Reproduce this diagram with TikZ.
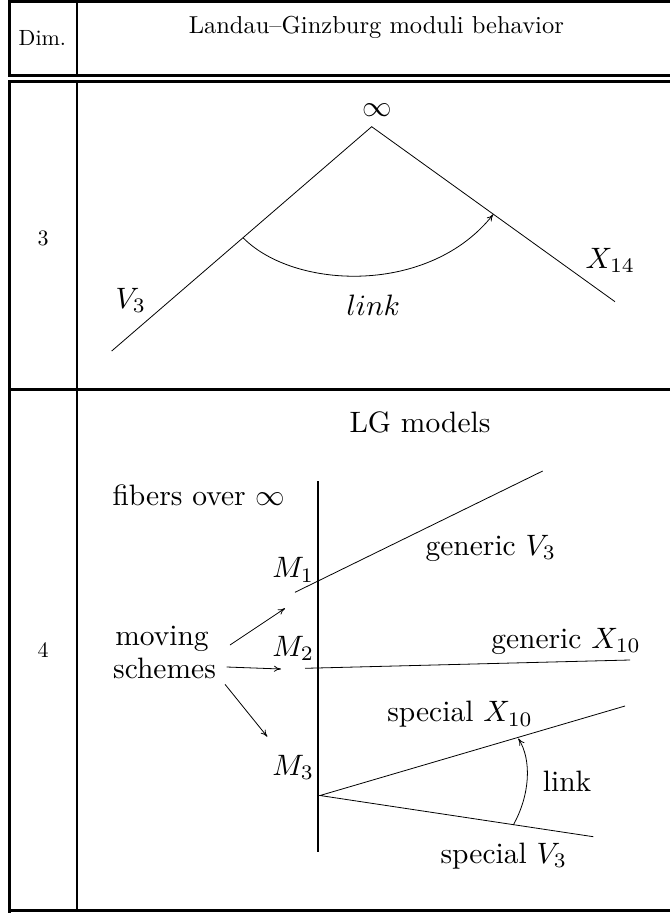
\documentclass[tikz,border=0pt]{standalone}
\usetikzlibrary{arrows.meta}
\tikzset{
  rule/.style={line width=3pt},
  thinrule/.style={line width=2.5pt},
  curve/.style={line width=0.8pt},
  arr/.style={line width=0.8pt,-{To[length=7pt,width=6pt]}},
  hdr/.style={inner sep=0pt,scale=2.2,transform shape},
  ttl/.style={inner sep=0pt,scale=2.45,transform shape},
  lbl/.style={inner sep=0pt,scale=2.95,transform shape},
}
\begin{document}
\begin{tikzpicture}[x=1pt,y=-1pt]
\useasboundingbox (0,0) rectangle (670,913);
% table rules
\draw[rule] (8,1.5) -- (670,1.5);
\draw[rule] (8,75) -- (670,75);
\draw[thinrule] (8,81.5) -- (670,81.5);
\draw[rule] (8,389.5) -- (670,389.5);
\draw[rule] (8,910.5) -- (670,910.5);
\draw[rule] (9.5,0) -- (9.5,76.5);
\draw[rule] (9.5,80.5) -- (9.5,913);
\draw[thinrule] (77,0) -- (77,76.5);
\draw[thinrule] (77,80.5) -- (77,912);
% header
\node[hdr,anchor=base west] (dim) at (18.3,45.7) {Dim.};
\node[ttl,anchor=base west] (title) at (188.3,33.3) {Landau--Ginzburg moduli behavior};
\node[hdr] (n3) at (43,238) {3};
\node[hdr] (n4) at (43,650) {4};
% row 3
\coordinate (apex) at (371.7,126.7);
\coordinate (l3) at (111.7,351);
\coordinate (r3) at (615,301.7);
\coordinate (ls) at (243.3,238);
\coordinate (le) at (493.3,214.3);
\node[lbl] (inf) at (377,110) {$\infty$};
\draw[curve] (l3) -- (apex) -- (r3);
\draw[arr] (ls) .. controls (295,290) and (430,295) .. (le);
\node[lbl,anchor=base west] (v3) at (115,308) {$V_3$};
\node[lbl,anchor=base west] (x14) at (585,268) {$X_{14}$};
\node[lbl,anchor=base] (link3) at (373.3,315) {$link$};
% row 4
\node[lbl,anchor=base] (lg) at (420,432) {LG models};
\node[lbl,anchor=base west] (fib) at (112,505) {fibers over $\infty$};
\node[lbl,anchor=base] (mov) at (162,645) {moving};
\node[lbl,anchor=base] (sch) at (164.5,678) {schemes};
\coordinate (vt) at (318.3,481);
\coordinate (vb) at (318.3,852.3);
\draw[line width=2pt] (vt) -- (vb);
\node[lbl,anchor=base west] (m1) at (271.7,577.7) {$M_1$};
\node[lbl,anchor=base west] (m2) at (271.7,656) {$M_2$};
\node[lbl,anchor=base west] (m3) at (271.7,775) {$M_3$};
\coordinate (a1) at (295,592.3);
\coordinate (b1) at (542.7,471);
\draw[curve] (a1) -- (b1);
\coordinate (a2) at (305,668.3);
\coordinate (b2) at (630,660);
\draw[curve] (a2) -- (b2);
\coordinate (w) at (320,795.5);
\coordinate (wu) at (625,706);
\coordinate (wl) at (593.3,836.7);
\draw[curve] (wu) -- (w) -- (wl);
\coordinate (s1) at (230,645);
\coordinate (t1) at (285,608.3);
\coordinate (s2) at (226.7,667);
\coordinate (t2) at (281,669);
\coordinate (s3) at (225,684.3);
\coordinate (t3) at (267.3,736.7);
\draw[arr] (s1) -- (t1);
\draw[arr] (s2) -- (t2);
\draw[arr] (s3) -- (t3);
\coordinate (ks) at (513.3,825);
\coordinate (ke) at (518.3,738.5);
\draw[arr] (ks) .. controls (530,795) and (532,760) .. (ke);
\node[lbl,anchor=base west] (gv3) at (425,555) {generic $V_3$};
\node[lbl,anchor=base west] (gx10) at (490.7,648) {generic $X_{10}$};
\node[lbl,anchor=base west] (sx10) at (386.7,721.7) {special $X_{10}$};
\node[lbl,anchor=base west] (link4) at (542.3,791.7) {link};
\node[lbl,anchor=base west] (sv3) at (440,863) {special $V_3$};
\end{tikzpicture}
\end{document}
